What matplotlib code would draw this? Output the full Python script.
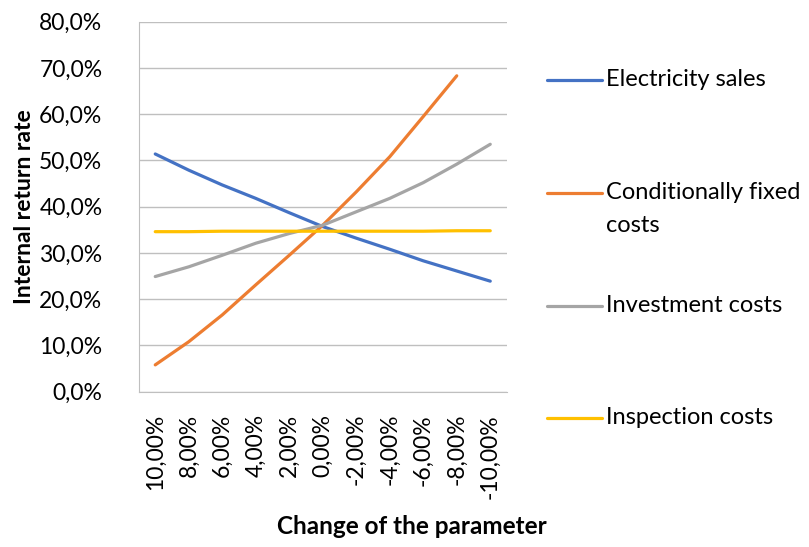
import matplotlib
matplotlib.use("Agg")
import matplotlib.pyplot as plt
from matplotlib.lines import Line2D
from matplotlib.ticker import FuncFormatter

plt.rcParams['font.family'] = ['Lato', 'DejaVu Sans']

# parameter change categories (x axis)
changes = ["10,00%", "8,00%", "6,00%", "4,00%", "2,00%", "0,00%",
           "-2,00%", "-4,00%", "-6,00%", "-8,00%", "-10,00%"]

# internal return rate, %
electricity_sales = [51.4, 47.9, 44.7, 41.8, 38.7, 35.7, 33.2, 30.8, 28.3, 26.1, 23.9]
cond_fixed_costs = [5.8, 10.8, 16.6, 23.1, 29.5, 36.0, 43.2, 50.8, 59.5, 68.3]
investment_costs = [24.9, 27.0, 29.5, 32.1, 34.2, 36.0, 38.9, 41.8, 45.2, 49.2, 53.5]
inspection_costs = [34.6, 34.6, 34.7, 34.7, 34.7, 34.7, 34.7, 34.7, 34.7, 34.8, 34.8]

series = [
    ("Electricity sales", electricity_sales, "#4472C4"),
    ("Conditionally fixed\ncosts", cond_fixed_costs, "#ED7D31"),
    ("Investment costs", investment_costs, "#A5A5A5"),
    ("Inspection costs", inspection_costs, "#FFC000"),
]

W, H = 809, 547
fig = plt.figure(figsize=(W / 100, H / 100), dpi=100)
ax = fig.add_axes([138.5 / W, 1 - 391.7 / H, (507 - 138.5) / W, (391.7 - 21.7) / H])

for name, vals, col in series:
    ax.plot(range(len(vals)), vals, color=col, linewidth=2.3, solid_capstyle="round")

ax.set_xlim(-0.5, len(changes) - 0.5)
ax.set_ylim(0, 80)
ax.set_yticks(range(0, 81, 10))
ax.yaxis.set_major_formatter(FuncFormatter(lambda v, p: f"{v:.1f}%".replace(".", ",")))
ax.set_xticks(range(len(changes)))
ax.set_xticklabels(changes, rotation=90)
ax.tick_params(axis="both", length=0, labelsize=16.5, colors="black")
ax.tick_params(axis="y", pad=26)
ax.tick_params(axis="x", pad=16)

ax.grid(axis="y", color="#BFBFBF", linewidth=1)
ax.set_axisbelow(True)
for s in ["top", "right"]:
    ax.spines[s].set_visible(False)
ax.spines["left"].set_color("#BFBFBF")
ax.spines["bottom"].set_color("#BFBFBF")

fig.text(25 / W, 1 - 207 / H, "Internal return rate", rotation=90, ha="center",
         va="center", fontsize=16.5, fontweight="bold")
fig.text(412 / W, 1 - 527 / H, "Change of the parameter", ha="center",
         va="center", fontsize=17.5, fontweight="bold")

# legend on the right
leg_y = [80, 193, 306, 418]
for (name, vals, col), y in zip(series, leg_y):
    yf = 1 - y / H
    fig.add_artist(Line2D([547 / W, 602 / W], [yf, yf], color=col, linewidth=2.3,
                          solid_capstyle="round", transform=fig.transFigure))
    for i, line in enumerate(name.split("\n")):
        fig.text(606 / W, 1 - (y + i * 32) / H, line, ha="left", va="center",
                 fontsize=17)

fig.savefig("out.png", dpi=100)
